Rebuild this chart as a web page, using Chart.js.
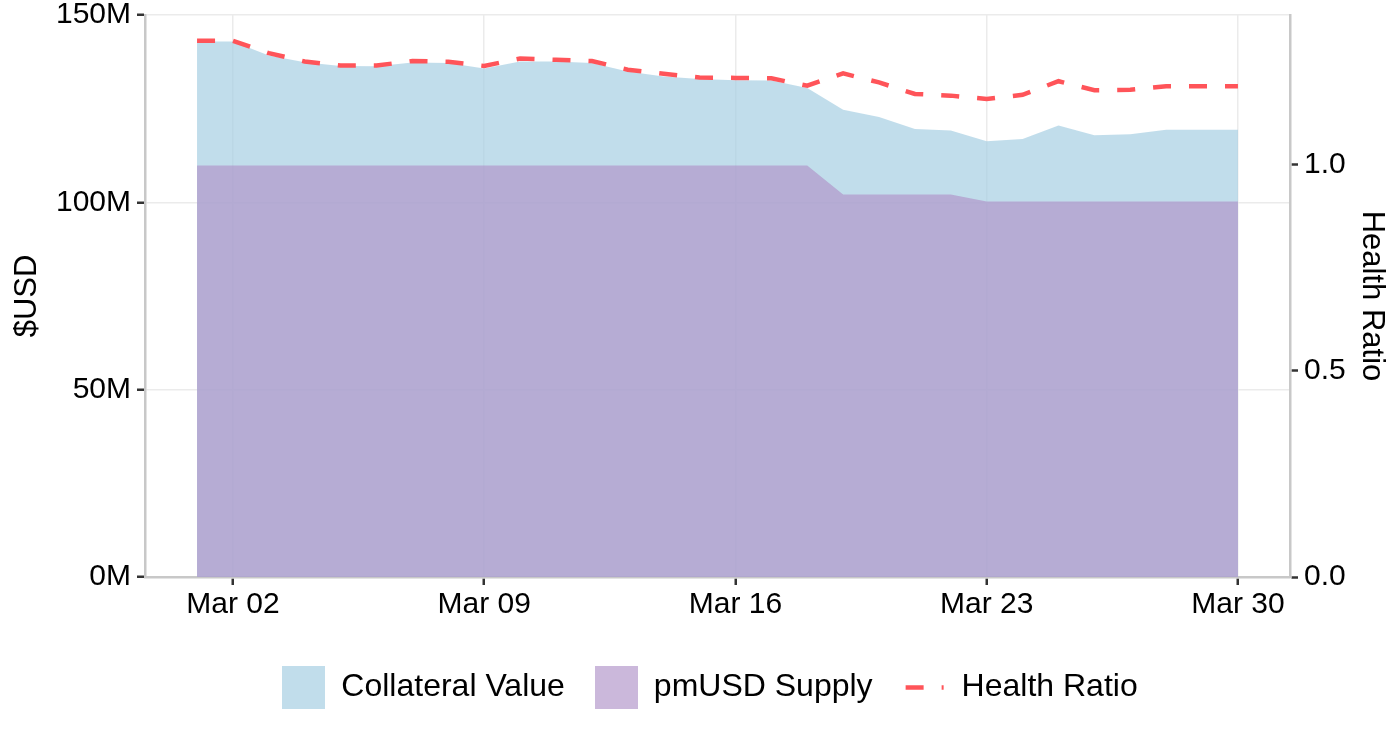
<!DOCTYPE html>
<html>
<head>
<meta charset="utf-8">
<title>Collateral Value vs pmUSD Supply</title>
<script src="https://cdn.jsdelivr.net/npm/chart.js@4.4.1/dist/chart.umd.min.js"></script>
<style>
    html, body { margin: 0; padding: 0; background: #fff; }
    #wrap { width: 1400px; height: 740px; }
</style>
</head>
<body>
<div id="wrap"><canvas id="healthChart"></canvas></div>
<script>
// daily values, $ in millions
const dates = ['Mar 01', 'Mar 02', 'Mar 03', 'Mar 04', 'Mar 05', 'Mar 06', 'Mar 07', 'Mar 08', 'Mar 09', 'Mar 10',
               'Mar 11', 'Mar 12', 'Mar 13', 'Mar 14', 'Mar 15', 'Mar 16', 'Mar 17', 'Mar 18', 'Mar 19', 'Mar 20',
               'Mar 21', 'Mar 22', 'Mar 23', 'Mar 24', 'Mar 25', 'Mar 26', 'Mar 27', 'Mar 28', 'Mar 29', 'Mar 30'];
const collateralValue = [142.9, 142.9, 139.2, 137.4, 136.4, 136.3, 137.3, 137.2, 135.7, 137.6,
                         137.6, 137.2, 134.9, 133.6, 132.9, 132.6, 132.5, 130.5, 124.7, 122.8,
                         119.6, 119.2, 116.3, 116.9, 120.5, 117.9, 118.2, 119.4, 119.4, 119.4];
const pmusdSupply = [109.8, 109.8, 109.8, 109.8, 109.8, 109.8, 109.8, 109.8, 109.8, 109.8,
                     109.8, 109.8, 109.8, 109.8, 109.8, 109.8, 109.8, 109.8, 102.1, 102.1,
                     102.1, 102.1, 100.2, 100.2, 100.2, 100.2, 100.2, 100.2, 100.2, 100.2];
const healthRatio = [1.301, 1.301, 1.271, 1.251, 1.241, 1.241, 1.252, 1.250, 1.240, 1.258,
                     1.255, 1.252, 1.231, 1.221, 1.212, 1.211, 1.210, 1.192, 1.222, 1.200,
                     1.172, 1.168, 1.160, 1.170, 1.203, 1.181, 1.182, 1.191, 1.191, 1.191];

const dateTicks = ['Mar 02', 'Mar 09', 'Mar 16', 'Mar 23', 'Mar 30'];
const usdTicks = [0, 50, 100, 150];
const ratioTicks = [0, 0.5, 1.0];

const FONT = "'Liberation Sans', Arial, Helvetica, sans-serif";
const BLUE = 'rgba(166, 206, 227, 0.7)';
const PURPLE = 'rgba(175, 146, 200, 0.65)';
const RED = '#ff5459';
const NONE = 'rgba(0, 0, 0, 0)';

// legend keys drawn as little canvases (square swatch / dashed segment)
function legendKey(fill, dashed) {
    const c = document.createElement('canvas');
    c.width = 43;
    c.height = 43;
    const g = c.getContext('2d');
    if (dashed) {
        g.strokeStyle = RED;
        g.lineWidth = 4.5;
        g.setLineDash([18, 18]);
        g.beginPath();
        g.moveTo(3, 21.5);
        g.lineTo(41, 21.5);
        g.stroke();
    } else {
        g.fillStyle = fill;
        g.fillRect(0, 0, 43, 43);
    }
    return c;
}
const keyBlue = legendKey(BLUE, false);
const keyPurple = legendKey(PURPLE, false);
const keyRed = legendKey(RED, true);

const toPoints = arr => arr.map((v, i) => ({ x: i, y: v }));

const tickFont = { family: FONT, size: 30 };
const titleFont = { family: FONT, size: 31 };
const gridStyle = { color: '#ebebeb', lineWidth: 1.5, tickColor: '#333333', tickLength: 8, tickWidth: 2.5 };
const borderStyle = { color: '#c8c8c8', width: 2.5 };

const ctx = document.getElementById('healthChart').getContext('2d');

new Chart(ctx, {
    type: 'line',
    data: {
        datasets: [
            {
                label: 'Health Ratio',
                data: toPoints(healthRatio),
                yAxisID: 'y1',
                borderColor: RED,
                borderWidth: 4.5,
                borderDash: [18, 18],
                fill: false,
                pointRadius: 0,
                tension: 0
            },
            {
                label: 'pmUSD Supply',
                data: toPoints(pmusdSupply),
                yAxisID: 'y',
                backgroundColor: PURPLE,
                borderColor: NONE,
                borderWidth: 0,
                fill: 'origin',
                pointRadius: 0,
                tension: 0
            },
            {
                label: 'Collateral Value',
                data: toPoints(collateralValue),
                yAxisID: 'y',
                backgroundColor: BLUE,
                borderColor: NONE,
                borderWidth: 0,
                fill: 'origin',
                pointRadius: 0,
                tension: 0
            }
        ]
    },
    options: {
        responsive: true,
        maintainAspectRatio: false,
        animation: false,
        // left padding nudges the centred legend a bit to the right
        layout: { padding: { top: 15, bottom: 26.5, left: 20, right: 0 } },
        scales: {
            x: {
                type: 'linear',
                min: -1.45,
                max: dates.length - 1 + 1.45,
                afterBuildTicks: s => { s.ticks = dateTicks.map(d => ({ value: dates.indexOf(d) })); },
                ticks: {
                    callback: v => dates[v],
                    color: '#000',
                    font: tickFont,
                    padding: 2,
                    maxRotation: 0,
                    autoSkip: false
                },
                grid: gridStyle,
                border: borderStyle,
                afterFit: s => { s.height = 64.5; s.paddingLeft = 0; s.paddingRight = 0; }
            },
            y: {
                position: 'left',
                min: 0,
                max: 150,
                afterBuildTicks: s => { s.ticks = usdTicks.map(v => ({ value: v })); },
                ticks: { callback: v => v + 'M', color: '#000', font: tickFont, padding: 6 },
                grid: gridStyle,
                border: borderStyle,
                title: { display: true, text: '$USD', color: '#000', font: titleFont, padding: { top: -11, bottom: 0 } },
                afterFit: s => { s.width = 125; s.paddingTop = 0; s.paddingBottom = 0; }
            },
            y1: {
                position: 'right',
                min: 0,
                max: 150 / 110,
                afterBuildTicks: s => { s.ticks = ratioTicks.map(v => ({ value: v })); },
                ticks: { callback: v => v.toFixed(1), color: '#000', font: tickFont, padding: 6 },
                grid: { drawOnChartArea: false, tickColor: '#333333', tickLength: 8, tickWidth: 2.5 },
                border: borderStyle,
                title: { display: true, text: 'Health Ratio', color: '#000', font: titleFont, padding: { top: 10, bottom: 0 } },
                afterFit: s => { s.width = 110; s.paddingTop = 0; s.paddingBottom = 0; }
            }
        },
        plugins: {
            tooltip: { enabled: false },
            legend: {
                position: 'bottom',
                labels: {
                    usePointStyle: true,
                    pointStyleWidth: 43,
                    boxHeight: 43,
                    padding: 30,
                    color: '#000',
                    font: { family: FONT, size: 32 },
                    generateLabels: () => [
                        { text: 'Collateral Value', pointStyle: keyBlue, fillStyle: BLUE, strokeStyle: NONE, lineWidth: 0, datasetIndex: 2 },
                        { text: 'pmUSD Supply', pointStyle: keyPurple, fillStyle: PURPLE, strokeStyle: NONE, lineWidth: 0, datasetIndex: 1 },
                        { text: 'Health Ratio', pointStyle: keyRed, fillStyle: NONE, strokeStyle: NONE, lineWidth: 0, datasetIndex: 0 }
                    ]
                }
            }
        }
    }
});
</script>
</body>
</html>
